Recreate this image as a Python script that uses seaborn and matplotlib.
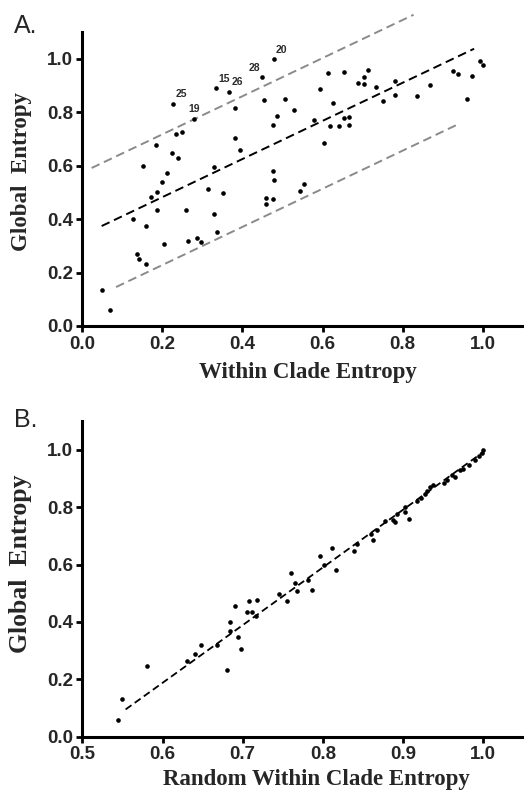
import numpy as np
import pandas as pd
import matplotlib
matplotlib.use('Agg')
import matplotlib.pyplot as plt
import seaborn as sns

# panel A: within clade entropy vs global entropy
within_a = [0.051, 0.071, 0.126, 0.137, 0.143, 0.153, 0.159, 0.159, 0.171, 0.185,
            0.186, 0.188, 0.200, 0.204, 0.211, 0.225, 0.228, 0.234, 0.239, 0.249,
            0.259, 0.265, 0.280, 0.287, 0.298, 0.315, 0.328, 0.330, 0.335, 0.337,
            0.351, 0.367, 0.381, 0.381, 0.395, 0.448, 0.455, 0.458, 0.460, 0.476,
            0.476, 0.479, 0.476, 0.479, 0.487, 0.506, 0.528, 0.544, 0.554, 0.579,
            0.594, 0.603, 0.614, 0.619, 0.627, 0.640, 0.653, 0.654, 0.667, 0.667,
            0.688, 0.703, 0.704, 0.714, 0.733, 0.752, 0.781, 0.781, 0.835, 0.869,
            0.926, 0.938, 0.960, 0.974, 0.993, 1.000]
global_a = [0.133, 0.060, 0.400, 0.268, 0.249, 0.598, 0.374, 0.231, 0.484, 0.676,
            0.500, 0.435, 0.539, 0.305, 0.572, 0.646, 0.832, 0.720, 0.629, 0.725,
            0.434, 0.319, 0.776, 0.329, 0.315, 0.513, 0.595, 0.420, 0.889, 0.351,
            0.497, 0.877, 0.814, 0.705, 0.657, 0.931, 0.844, 0.457, 0.479, 0.474,
            0.581, 0.546, 0.752, 1.000, 0.785, 0.849, 0.810, 0.506, 0.531, 0.770,
            0.885, 0.683, 0.945, 0.750, 0.835, 0.750, 0.777, 0.951, 0.781, 0.753,
            0.910, 0.907, 0.931, 0.956, 0.894, 0.843, 0.918, 0.864, 0.859, 0.903,
            0.954, 0.943, 0.849, 0.935, 0.993, 0.978]
# labelled outliers (index into the arrays above) and their text / alignment
labels_a = {16: ('25', 'left'), 22: ('19', 'center'), 28: ('15', 'left'),
            31: ('26', 'left'), 35: ('28', 'right'), 43: ('20', 'left')}

# fit line and prediction band
slope_a, intercept_a = 0.714, 0.339
fit_range_a = (0.049, 0.978)
upper_off_a, upper_range_a = 0.235, (0.024, 0.827)
lower_off_a, lower_range_a = -0.254, (0.085, 0.934)

# panel B: random within clade entropy vs global entropy
random_b = [0.545, 0.549, 0.581, 0.631, 0.640, 0.648, 0.668, 0.681, 0.684, 0.684,
            0.690, 0.694, 0.698, 0.706, 0.708, 0.711, 0.717, 0.718, 0.745, 0.755,
            0.760, 0.765, 0.768, 0.782, 0.786, 0.797, 0.801, 0.811, 0.816, 0.839,
            0.842, 0.860, 0.862, 0.867, 0.878, 0.887, 0.890, 0.892, 0.902, 0.903,
            0.907, 0.918, 0.923, 0.927, 0.930, 0.933, 0.937, 0.951, 0.955, 0.961,
            0.965, 0.971, 0.975, 0.982, 0.990, 0.995, 0.998, 1.000]
global_b = [0.058, 0.131, 0.248, 0.264, 0.287, 0.319, 0.318, 0.232, 0.370, 0.398,
            0.456, 0.349, 0.304, 0.433, 0.472, 0.433, 0.419, 0.478, 0.497, 0.473,
            0.572, 0.536, 0.507, 0.545, 0.510, 0.629, 0.597, 0.658, 0.580, 0.646,
            0.673, 0.705, 0.684, 0.722, 0.751, 0.754, 0.748, 0.775, 0.800, 0.784,
            0.759, 0.820, 0.833, 0.847, 0.856, 0.870, 0.878, 0.884, 0.894, 0.911,
            0.905, 0.928, 0.934, 0.948, 0.963, 0.978, 0.988, 0.998]
slope_b, intercept_b = 2.011, -1.019
fit_range_b = (0.554, 1.0)

df_a = pd.DataFrame({'within': within_a, 'global': global_a})
df_b = pd.DataFrame({'random': random_b, 'global': global_b})

sns.set_style('ticks')
plt.rcParams['font.family'] = ['Liberation Sans', 'DejaVu Sans']

fig = plt.figure(figsize=(5.24, 7.92), dpi=100)
ax_a = fig.add_axes([0.1565, 0.5884, 0.8416, 0.3712])
ax_b = fig.add_axes([0.1571, 0.0698, 0.8416, 0.3986])

tick_font = {'family': 'Liberation Sans', 'weight': 'bold', 'size': 13.5}
label_font = {'family': 'Liberation Serif', 'weight': 'bold', 'size': 16.5}


def style_axes(ax):
    sns.despine(ax=ax)
    for side in ['left', 'bottom']:
        ax.spines[side].set_linewidth(2.2)
        ax.spines[side].set_color('black')
    ax.tick_params(direction='out', length=4, width=2, color='black')
    ax.tick_params(axis='x', pad=3)
    ax.tick_params(axis='y', pad=2.5)
    for lab in ax.get_xticklabels() + ax.get_yticklabels():
        lab.set_fontfamily(tick_font['family'])
        lab.set_fontweight(tick_font['weight'])
        lab.set_fontsize(tick_font['size'])


# ---- panel A ----
sns.scatterplot(data=df_a, x='within', y='global', ax=ax_a, color='black',
                s=11, linewidth=0, zorder=3)

xs = np.array(fit_range_a)
ax_a.plot(xs, slope_a * xs + intercept_a, color='black', lw=1.4, dashes=(4.5, 2.5))
xs = np.array(upper_range_a)
ax_a.plot(xs, slope_a * xs + intercept_a + upper_off_a, color='#8a8a8a', lw=1.4,
          dashes=(4.5, 2.5), clip_on=False)
xs = np.array(lower_range_a)
ax_a.plot(xs, slope_a * xs + intercept_a + lower_off_a, color='#8a8a8a', lw=1.4,
          dashes=(4.5, 2.5))

for i, (txt, ha) in labels_a.items():
    dx = {'left': 1.5, 'center': 0, 'right': -1}[ha]
    ax_a.annotate(txt, (within_a[i], global_a[i]), xytext=(dx, 3),
                  textcoords='offset points', ha=ha, va='bottom',
                  fontsize=7.5, fontweight='bold', color='#2a2a2a')

ax_a.set_xlim(0, 1.1)
ax_a.set_ylim(0, 1.1)
ax_a.set_xticks([0.0, 0.2, 0.4, 0.6, 0.8, 1.0])
ax_a.set_yticks([0.0, 0.2, 0.4, 0.6, 0.8, 1.0])
ax_a.set_xlabel('Within Clade Entropy', fontdict=label_font)
ax_a.set_ylabel('Global  Entropy', fontdict=label_font)
ax_a.xaxis.set_label_coords(0.512, -0.122)
ax_a.yaxis.set_label_coords(-0.113, 0.527)
style_axes(ax_a)

# ---- panel B ----
sns.scatterplot(data=df_b, x='random', y='global', ax=ax_b, color='black',
                s=11, linewidth=0, zorder=3)
xs = np.array(fit_range_b)
ax_b.plot(xs, slope_b * xs + intercept_b, color='black', lw=1.3, dashes=(4, 2.2))

ax_b.set_xlim(0.5, 1.05)
ax_b.set_ylim(0, 1.1)
ax_b.set_xticks([0.5, 0.6, 0.7, 0.8, 0.9, 1.0])
ax_b.set_yticks([0.0, 0.2, 0.4, 0.6, 0.8, 1.0])
ax_b.set_xlabel('Random Within Clade Entropy', fontdict=label_font)
ax_b.set_ylabel('Global  Entropy', fontdict=dict(label_font, size=18.5))
ax_b.xaxis.set_label_coords(0.530, -0.102)
ax_b.yaxis.set_label_coords(-0.114, 0.547)
style_axes(ax_b)

fig.text(0.027, 0.9583, 'A.', fontsize=18, family='Liberation Sans', va='baseline')
fig.text(0.027, 0.4609, 'B.', fontsize=18, family='Liberation Sans', va='baseline')

fig.savefig('out.png', dpi=100)
